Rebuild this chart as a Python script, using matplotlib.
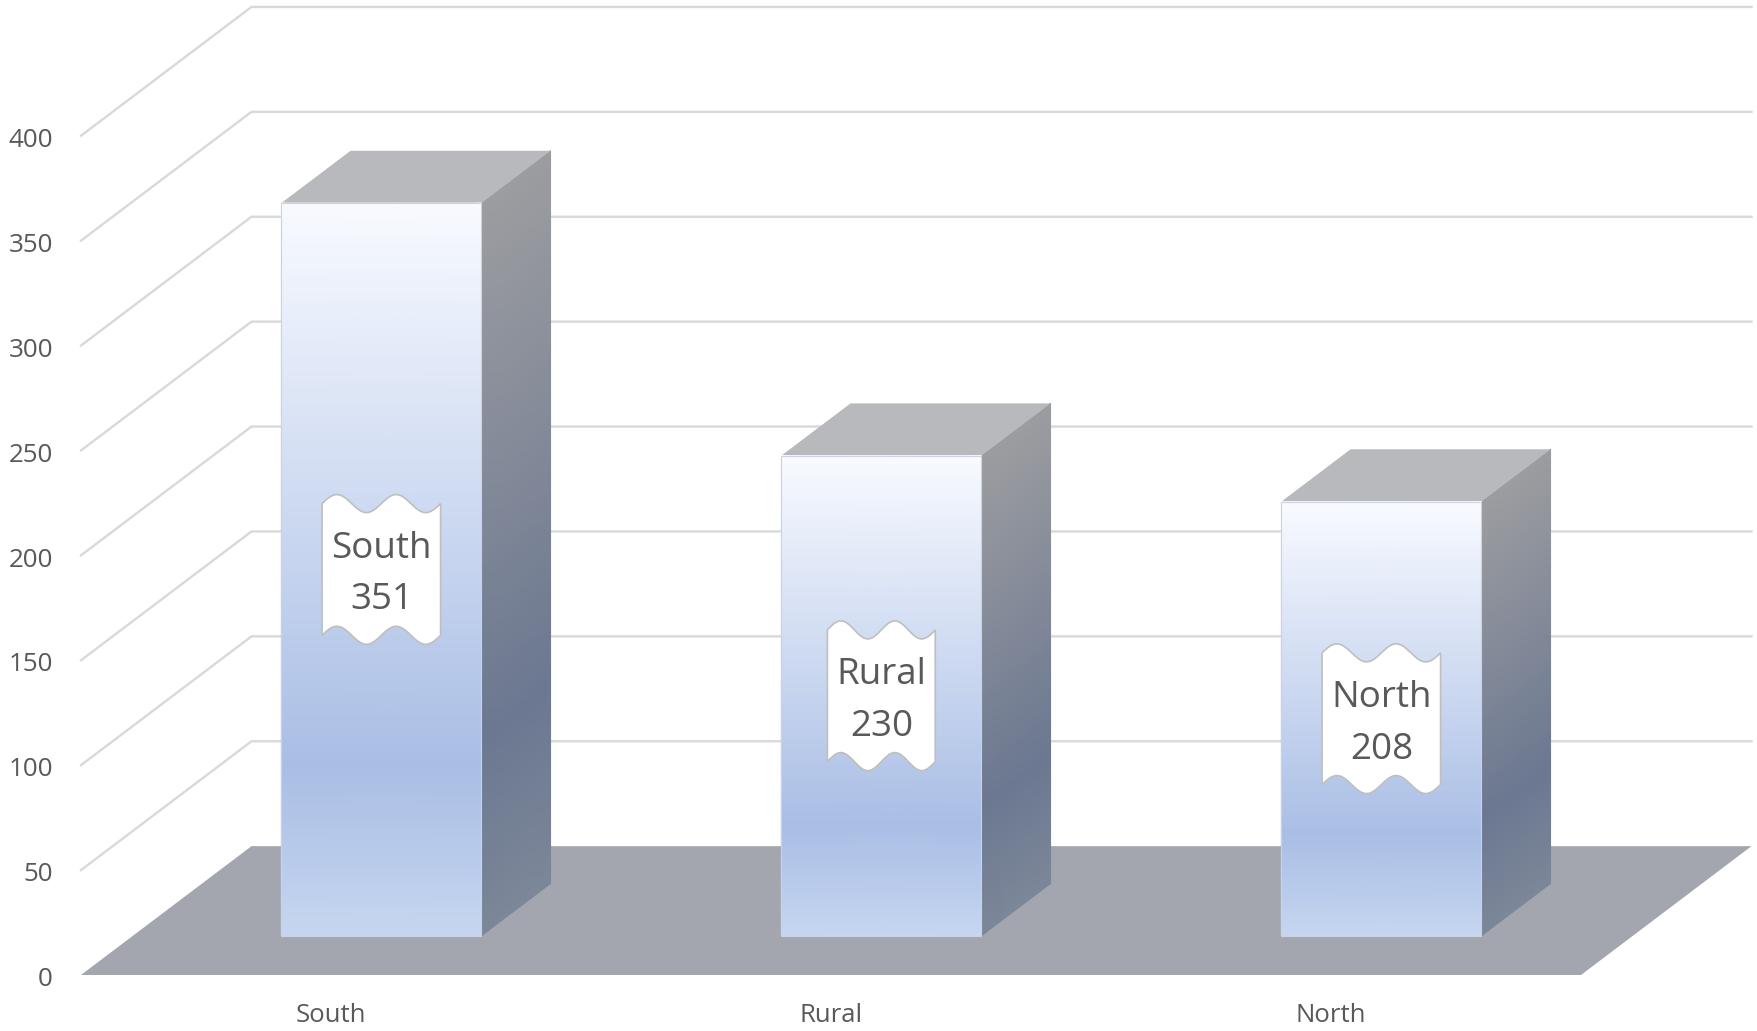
#!/usr/bin/env python3
"""Fake-3D column chart with wave shaped data labels."""

import numpy as np
import matplotlib
matplotlib.use("Agg")
import matplotlib.pyplot as plt
from matplotlib.colors import LinearSegmentedColormap
from matplotlib.patches import Polygon
from matplotlib.transforms import ScaledTranslation

categories = ["South", "Rural", "North"]
values = [351, 230, 208]
y_ticks = [0, 50, 100, 150, 200, 250, 300, 350, 400]

plt.rcParams['font.family'] = ['Open Sans', 'DejaVu Sans']

# oblique projection, depth 0 = front edge of the floor, 1 = back wall
DEPTH_X = 0.341
DEPTH_Y = 61.4
BAR_HALF = 0.2
BAR_SHIFT = -0.003
BAR_SCALE = 0.995   # columns stand a little short of the grid in the original
BAR_D0 = 0.304
BAR_D1 = 0.71
X_LEFT, X_RIGHT = -0.5, 2.5

GRID = '#D9D9D9'
TEXT = '#595959'
FLOOR = '#A3A6AE'
TOP = '#B8B9BD'
EDGE = '#CBD2E0'

front_cmap = LinearSegmentedColormap.from_list(
    'front', [(0, '#F8FAFF'), (0.77, '#A9BEE5'), (1, '#C6D6F0')])
side_cmap = LinearSegmentedColormap.from_list(
    'side', [(0, '#9C9DA0'), (0.73, '#6C7891'), (1, '#7C8799')])


def project(x, v, d):
    return x + d * DEPTH_X, v + d * DEPTH_Y


def wave_box(cx, cy, w, h):
    # same outline as the office "double wave" shape, sizes in data units
    t = np.linspace(0, 1, 120)
    amp = 9 / 2.098
    xs = cx - w / 2 + w * t
    top = cy + h / 2 + amp * np.sin(4 * np.pi * t)
    bottom = cy - h / 2 + amp * np.sin(4 * np.pi * t)
    return np.r_[np.c_[xs, top], np.c_[xs[::-1], bottom[::-1]]]


fig = plt.figure(figsize=(17.58, 10.31), dpi=100)
ax = fig.add_axes([0, 0, 1, 1])
ax.set_xlim(-0.662, 2.854)
ax.set_ylim(-26.7, 464.7)
for side in ax.spines.values():
    side.set_visible(False)

ax.set_xticks(range(len(categories)), categories)
ax.set_yticks(y_ticks)
ax.tick_params(axis='y', length=0, pad=-38.2, labelsize=18.7, labelcolor=TEXT)
ax.tick_params(axis='x', length=0, pad=-20, labelsize=18.5, labelcolor=TEXT)

# nudge the number labels down a bit so they sit on the wall lines
nudge = ScaledTranslation(0, -1.2 / 72, fig.dpi_scale_trans)
for lab in ax.get_yticklabels():
    lab.set_transform(lab.get_transform() + nudge)

# floor
corners = [project(X_LEFT, 0, 0), project(X_RIGHT, 0, 0),
           project(X_RIGHT, 0, 1), project(X_LEFT, 0, 1)]
ax.add_patch(Polygon(corners, closed=True, fc=FLOOR, ec='none', zorder=2))

# wall and back gridlines
for v in y_ticks[1:]:
    x0, y0 = project(X_LEFT, v, 0)
    x1, y1 = project(X_LEFT, v, 1)
    x2, y2 = project(X_RIGHT, v, 1)
    ax.plot([x0, x1, x2], [y0, y1, y2], color=GRID, lw=1.7, zorder=1,
            solid_joinstyle='miter')

renderer = fig.canvas.get_renderer()
for i, (name, val) in enumerate(zip(categories, values)):
    left, right = i + BAR_SHIFT - BAR_HALF, i + BAR_SHIFT + BAR_HALF
    height = val * BAR_SCALE
    t = np.linspace(0, 1, 60)
    levels = height * (1 - t)
    shade = np.tile(t[:, None], (1, 2))

    # front face
    xg, lg = np.meshgrid([left, right], levels)
    fx, fy = project(xg, lg, BAR_D0)
    ax.pcolormesh(fx, fy, shade, shading='gouraud',
                  cmap=front_cmap, vmin=0, vmax=1, zorder=4)

    # right side face
    dg, lg = np.meshgrid([BAR_D0, BAR_D1], levels)
    sx, sy = project(right, lg, dg)
    ax.pcolormesh(sx, sy, shade, shading='gouraud',
                  cmap=side_cmap, vmin=0, vmax=1, zorder=3)

    # top face
    top_face = [project(left, height, BAR_D0), project(right, height, BAR_D0),
                project(right, height, BAR_D1), project(left, height, BAR_D1)]
    ax.add_patch(Polygon(top_face, closed=True, fc=TOP, ec='none', zorder=3))

    # thin light outline of the front face
    outline = [project(left, 0, BAR_D0), project(right, 0, BAR_D0),
               project(right, height, BAR_D0), project(left, height, BAR_D0)]
    ax.add_patch(Polygon(outline, closed=True, fc='none', ec=EDGE, lw=0.8, zorder=5))

    # data label centred on the front face, text sits slightly low in the box
    cx, cy = project(i + BAR_SHIFT, height / 2, BAR_D0)
    label = ax.text(cx, cy - 2.4, f"{name}\n{val}", ha='center', va='center',
                    fontsize=26.5, color=TEXT, linespacing=1.58, zorder=7)
    text_w = label.get_window_extent(renderer).width
    box_w = (text_w + 18) / 500
    box_h = 131.7 / 2.098
    ax.add_patch(Polygon(wave_box(cx, cy, box_w, box_h), closed=True,
                         fc='white', ec='#BFBFBF', lw=1.2, zorder=6))

fig.savefig('out.png', dpi=100, facecolor='white')
